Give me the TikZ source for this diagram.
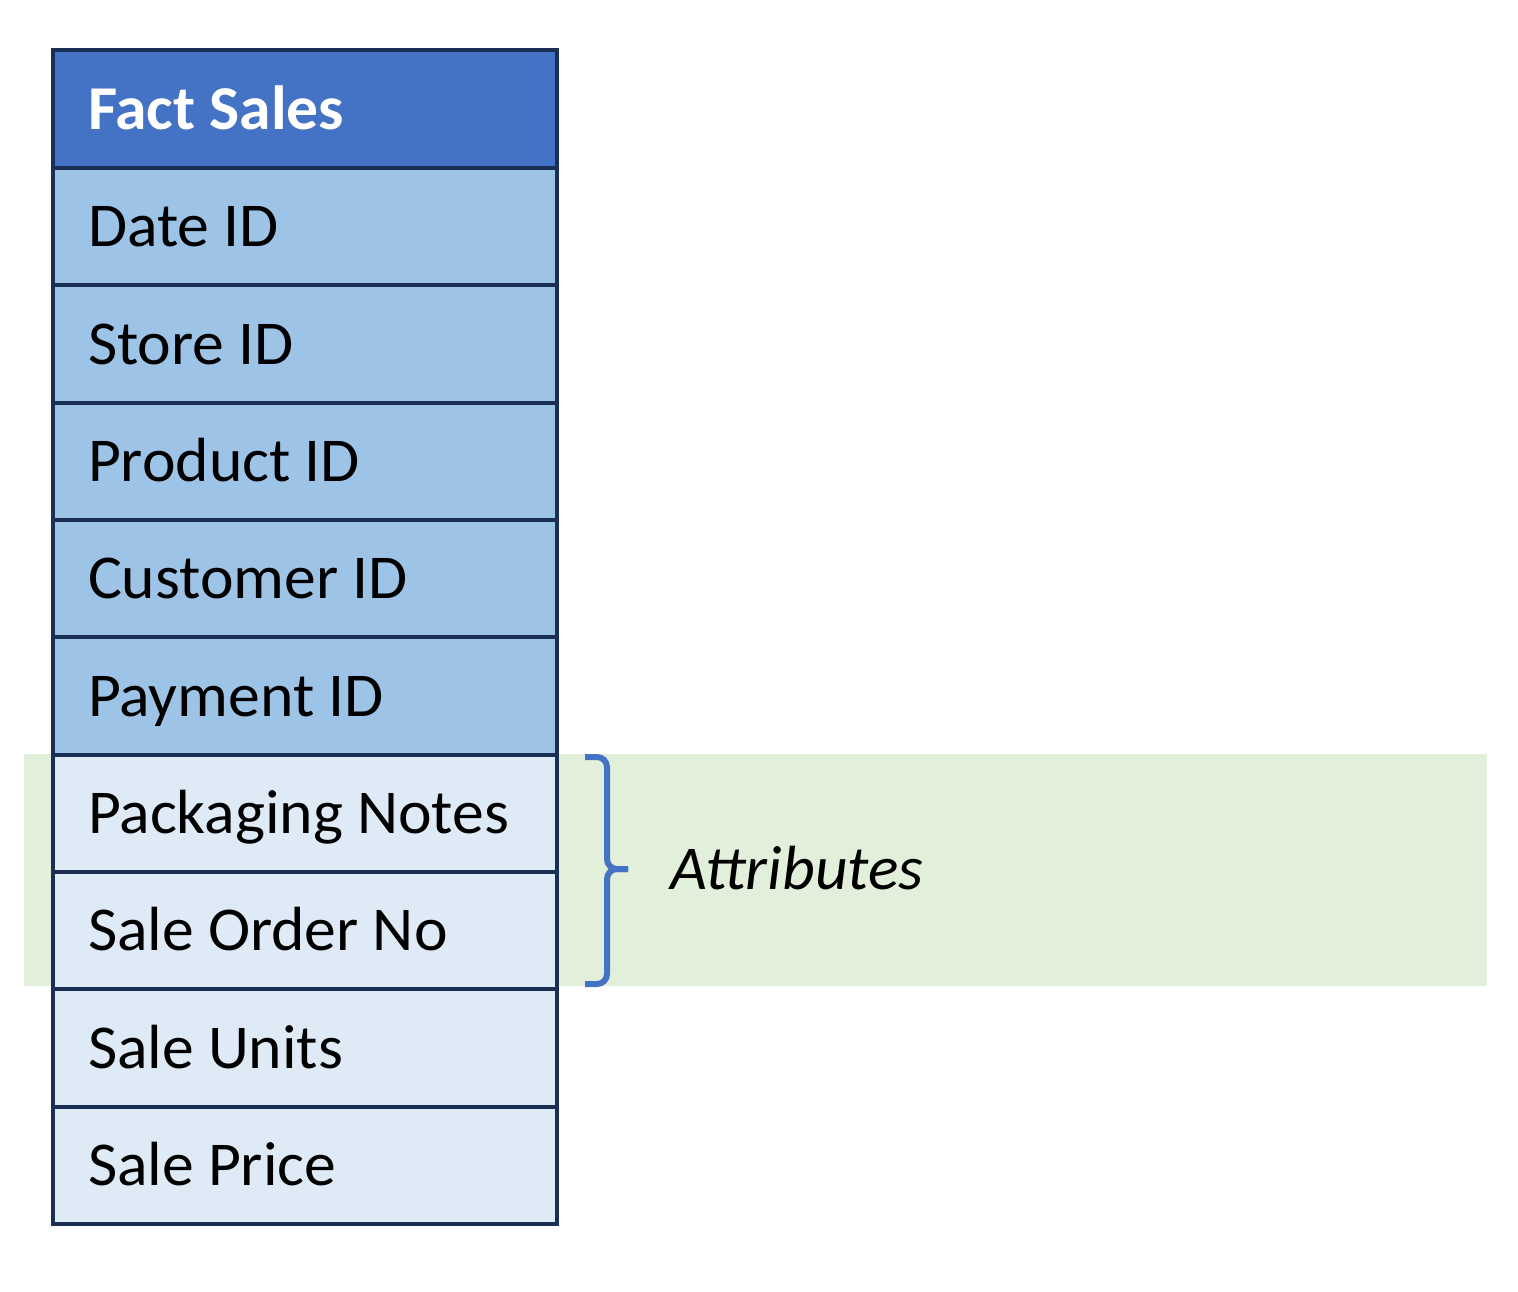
\documentclass[tikz,border=0pt]{standalone}
\usepackage{fontspec}
\setmainfont{Carlito}[FakeStretch=1.02]
\usetikzlibrary{positioning}

\definecolor{headblue}{HTML}{4472C4}
\definecolor{keyblue}{HTML}{9DC3E6}
\definecolor{attrblue}{HTML}{DEEBF7}
\definecolor{edgenavy}{HTML}{1B2F55}
\definecolor{bandgreen}{HTML}{E2EFDA}

\newcommand{\rowfont}{\fontsize{31.2}{38}\selectfont}

\begin{document}
\begin{tikzpicture}[
    x=0.5pt, y=-0.5pt,
    field/.style={rectangle, draw=edgenavy, line width=2pt, fill=keyblue, minimum width=252pt, minimum height=58.67pt, text width=217pt, inner xsep=17.5pt, inner ysep=0pt, outer sep=0pt, align=left, font=\rowfont, text height=20pt, text depth=0pt, execute at begin node={\spaceskip=0.226em\relax}},
    header/.style={field, fill=headblue, text=white, font=\rowfont\bfseries, minimum height=59pt},
    attr/.style={field, fill=attrblue},
    bracket/.style={draw=headblue, line width=3pt, rounded corners=5pt}
]
\useasboundingbox (0,0) rectangle (1518,1291);

% Highlight band behind the attribute rows
\fill [bandgreen] (24,754) rectangle (1487,986);

% Place the nodes
\node [header] (head) at (305,109) {Fact Sales};
\node [field, below=0pt of head] (date) {Date ID};
\node [field, below=0pt of date] (store) {Store ID};
\node [field, below=0pt of store] (product) {Product ID};
\node [field, below=0pt of product] (customer) {Customer ID};
\node [field, below=0pt of customer] (payment) {Payment ID};
\node [attr, below=0pt of payment] (packaging) {Packaging Notes};
\node [attr, below=0pt of packaging] (orderno) {Sale Order No};
\node [attr, below=0pt of orderno] (units) {Sale Units};
\node [attr, below=0pt of units] (price) {Sale Price};

% Bracket and its label
\coordinate (tip) at (628,869);
\draw [bracket] (585,757) -| (607,869) -- (tip);
\draw [bracket] (585,984) -| (607,869) -- (tip);
\node [right=21pt of tip, inner sep=0pt, font=\rowfont\itshape, text height=20pt, text depth=0pt] (attrlabel) {Attributes};

\end{tikzpicture}
\end{document}
